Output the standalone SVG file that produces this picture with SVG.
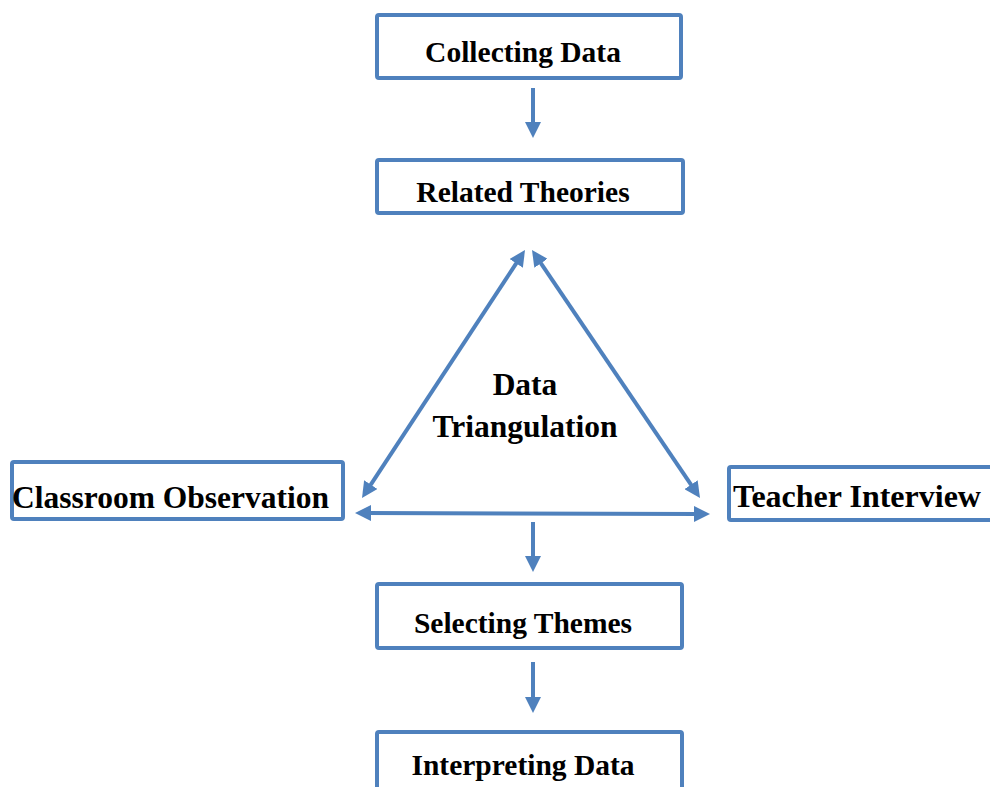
<svg xmlns="http://www.w3.org/2000/svg" width="990" height="787" viewBox="0 0 990 787">
<style>
.box{fill:#fff;stroke:#4F81BD;stroke-width:4}
.t{font-family:"Liberation Serif","Times New Roman",serif;font-weight:bold;fill:#000}
.c{stroke:#4F81BD;stroke-width:4;fill:none}
</style>
<defs>
<marker id="ah" markerUnits="userSpaceOnUse" markerWidth="16" markerHeight="16" refX="6" refY="8" orient="auto-start-reverse" viewBox="0 0 16 16">
<path d="M0,0 L16,8 L0,16 z" fill="#4F81BD"/>
</marker>
</defs>
<rect width="990" height="787" fill="#fff"/>
<g id="connectors">
<line class="c" x1="533" y1="88" x2="533" y2="128" marker-end="url(#ah)"/>
<line class="c" x1="519.5" y1="258.4" x2="367.5" y2="489.6" marker-start="url(#ah)" marker-end="url(#ah)"/>
<line class="c" x1="537.6" y1="258.3" x2="694.4" y2="489.7" marker-start="url(#ah)" marker-end="url(#ah)"/>
<line class="c" x1="365" y1="513" x2="700" y2="514" marker-start="url(#ah)" marker-end="url(#ah)"/>
<line class="c" x1="533" y1="522" x2="533" y2="562" marker-end="url(#ah)"/>
<line class="c" x1="533" y1="662" x2="533" y2="703" marker-end="url(#ah)"/>
</g>
<g id="collecting">
<rect class="box" x="377" y="15" width="304" height="63" rx="2"/>
<text class="t" x="523" y="62" font-size="29.5" text-anchor="middle">Collecting Data</text>
</g>
<g id="related">
<rect class="box" x="377" y="160" width="306" height="53" rx="2"/>
<text class="t" x="523" y="202" font-size="29.5" text-anchor="middle">Related Theories</text>
</g>
<g id="triangulation">
<text class="t" x="525" y="395" font-size="31.5" text-anchor="middle">Data</text>
<text class="t" x="525" y="437" font-size="31.5" text-anchor="middle">Triangulation</text>
</g>
<g id="classroom">
<rect class="box" x="12" y="462" width="331" height="57" rx="2"/>
<text class="t" x="12" y="508" font-size="31.5">Classroom Observation</text>
</g>
<g id="teacher">
<rect class="box" x="729" y="467" width="270" height="53" rx="2"/>
<text class="t" x="733" y="507" font-size="32">Teacher Interview</text>
</g>
<g id="selecting">
<rect class="box" x="377" y="584" width="305" height="64" rx="2"/>
<text class="t" x="523" y="633" font-size="29.5" text-anchor="middle">Selecting Themes</text>
</g>
<g id="interpreting">
<rect class="box" x="377" y="732" width="305" height="70" rx="2"/>
<text class="t" x="523" y="775" font-size="29.5" text-anchor="middle">Interpreting Data</text>
</g>
</svg>
